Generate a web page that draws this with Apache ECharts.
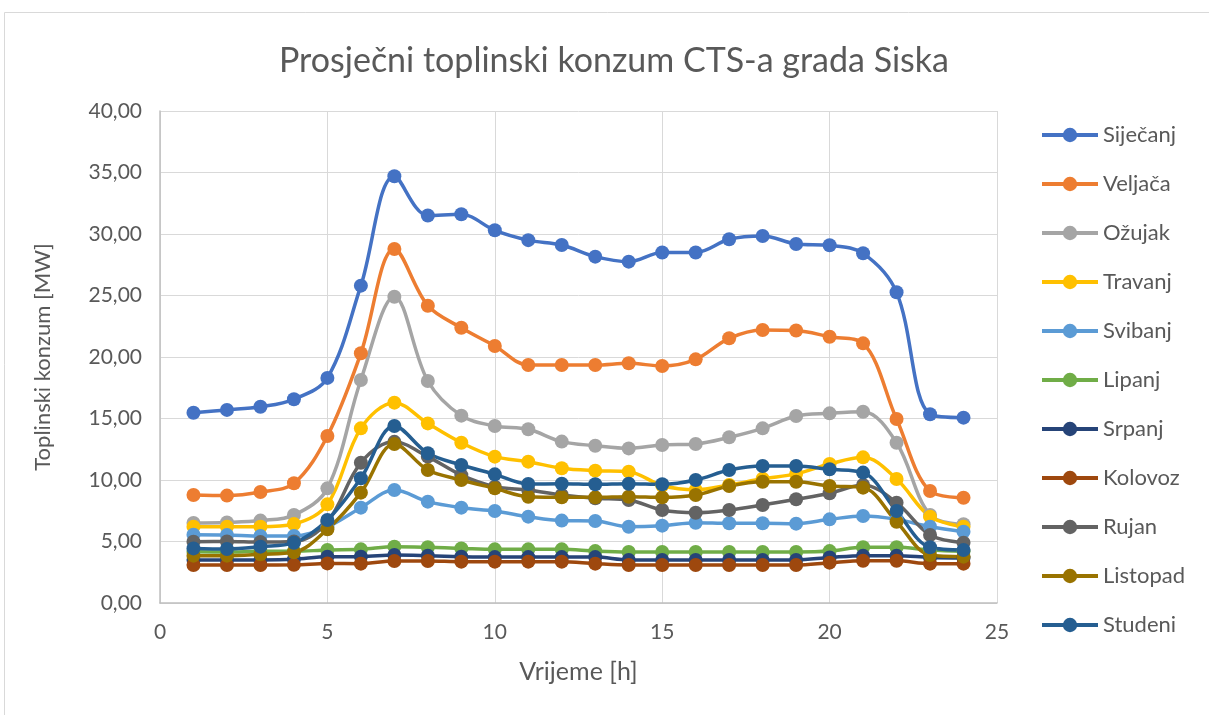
<!DOCTYPE html>
<html>
<head>
<meta charset="utf-8">
<script src="https://cdn.jsdelivr.net/npm/echarts@6/dist/echarts.min.js"></script>
<style>
html,body{margin:0;padding:0;background:#fff;}
#chart{width:1209px;height:715px;}
</style>
</head>
<body>
<div id="chart"></div>
<script>
const hours = [1,2,3,4,5,6,7,8,9,10,11,12,13,14,15,16,17,18,19,20,21,22,23,24];
const seriesNames = ['Siječanj','Veljača','Ožujak','Travanj','Svibanj','Lipanj','Srpanj','Kolovoz','Rujan','Listopad','Studeni'];
const sijecanj = [15.47,15.70,15.96,16.56,18.30,25.80,34.70,31.50,31.60,30.30,29.50,29.10,28.16,27.75,28.50,28.50,29.57,29.84,29.19,29.08,28.43,25.26,15.34,15.07];
const veljaca  = [8.78,8.73,9.02,9.73,13.58,20.30,28.78,24.17,22.38,20.90,19.35,19.35,19.35,19.49,19.27,19.81,21.52,22.20,22.15,21.65,21.11,14.96,9.10,8.56];
const ozujak   = [6.50,6.55,6.70,7.15,9.32,18.13,24.90,18.05,15.23,14.39,14.12,13.12,12.79,12.57,12.85,12.93,13.47,14.20,15.20,15.42,15.55,13.03,7.15,6.40];
const travanj  = [6.20,6.20,6.20,6.42,8.02,14.20,16.29,14.60,13.03,11.90,11.49,10.95,10.76,10.68,9.55,9.20,9.60,10.10,10.50,11.30,11.84,10.08,7.02,6.20];
const svibanj  = [5.55,5.53,5.45,5.45,6.20,7.75,9.19,8.24,7.75,7.48,7.02,6.70,6.67,6.20,6.29,6.53,6.48,6.48,6.45,6.80,7.07,6.80,6.20,5.80];
const lipanj   = [4.17,4.15,4.20,4.20,4.31,4.36,4.58,4.53,4.44,4.36,4.36,4.36,4.22,4.15,4.15,4.15,4.15,4.15,4.15,4.22,4.53,4.53,4.31,4.20];
const srpanj   = [3.50,3.50,3.50,3.55,3.77,3.77,3.90,3.85,3.77,3.73,3.73,3.73,3.73,3.50,3.50,3.50,3.50,3.50,3.50,3.70,3.85,3.85,3.70,3.65];
const kolovoz  = [3.09,3.09,3.09,3.10,3.22,3.20,3.41,3.41,3.36,3.36,3.36,3.36,3.20,3.09,3.09,3.09,3.09,3.09,3.09,3.28,3.44,3.44,3.20,3.20];
const rujan    = [4.98,5.00,4.95,5.00,6.60,11.40,13.10,11.90,10.40,9.46,9.19,8.78,8.51,8.37,7.56,7.34,7.56,7.97,8.43,8.92,9.59,8.16,5.53,4.90];
const listopad = [3.85,3.85,3.96,4.12,5.99,8.97,12.93,10.81,10.00,9.32,8.64,8.60,8.59,8.64,8.59,8.78,9.51,9.86,9.86,9.51,9.38,6.61,3.90,3.77];
const studeni  = [4.44,4.39,4.58,4.90,6.75,10.14,14.39,12.17,11.22,10.46,9.67,9.70,9.65,9.70,9.65,10.00,10.81,11.14,11.14,10.87,10.60,7.48,4.53,4.31];
const allValues = [sijecanj,veljaca,ozujak,travanj,svibanj,lipanj,srpanj,kolovoz,rujan,listopad,studeni];
const colors = ['#4472C4','#ED7D31','#A5A5A5','#FFC000','#5B9BD5','#70AD47','#264478','#9E480E','#636363','#997300','#255E91'];

const FONT = 'Lato, "Open Sans", sans-serif';
const chart = echarts.init(document.getElementById('chart'), null, {renderer:'canvas'});
const series = seriesNames.map((name, i) => ({
  name: name,
  type: 'line',
  smooth: 0.35,
  symbol: 'circle',
  symbolSize: 14,
  data: hours.map((h, j) => [h, allValues[i][j]]),
  lineStyle: {width: 3.5, color: colors[i]},
  itemStyle: {color: colors[i]},
  emphasis: {disabled: true}
}));

chart.setOption({
  animation: false,
  backgroundColor: '#fff',
  graphic: [{
    type: 'rect', silent: true, z: -10,
    shape: {x: 4.5, y: 12.5, width: 1300, height: 800},
    style: {fill: 'none', stroke: '#d9d9d9', lineWidth: 1}
  }],
  title: {
    text: 'Prosječni toplinski konzum CTS-a grada Siska',
    left: 274,
    top: 39,
    textStyle: {fontFamily: FONT, fontSize: 34, fontWeight: 'normal', color: '#595959'}
  },
  legend: {
    orient: 'vertical',
    left: 1035,
    top: 119,
    itemWidth: 56,
    itemHeight: 18,
    itemGap: 27,
    lineStyle: {width: 4},
    textStyle: {fontFamily: FONT, fontSize: 22, color: '#595959'},
    data: seriesNames
  },
  grid: {left: 160, right: 212, top: 111, bottom: 112, containLabel: false},
  xAxis: {
    type: 'value',
    min: 0, max: 25, interval: 5,
    name: 'Vrijeme [h]',
    nameLocation: 'middle',
    nameGap: 56,
    nameTextStyle: {fontFamily: FONT, fontSize: 25, color: '#595959'},
    axisLine: {show: true, lineStyle: {color: '#bfbfbf', width: 1.5}},
    axisTick: {show: false},
    axisLabel: {fontFamily: FONT, fontSize: 21, color: '#595959', margin: 19},
    splitLine: {show: true, lineStyle: {color: '#d9d9d9', width: 1}}
  },
  yAxis: {
    type: 'value',
    min: 0, max: 40, interval: 5,
    name: 'Toplinski konzum [MW]',
    nameLocation: 'middle',
    nameGap: 106,
    nameTextStyle: {fontFamily: FONT, fontSize: 22, color: '#595959'},
    axisLine: {show: true, lineStyle: {color: '#bfbfbf', width: 1.5}},
    axisTick: {show: false},
    axisLabel: {fontFamily: FONT, fontSize: 21, color: '#595959', margin: 18,
      formatter: v => v.toFixed(2).replace('.', ',')},
    splitLine: {show: true, lineStyle: {color: '#d9d9d9', width: 1}}
  },
  series: series
});
</script>
</body>
</html>
